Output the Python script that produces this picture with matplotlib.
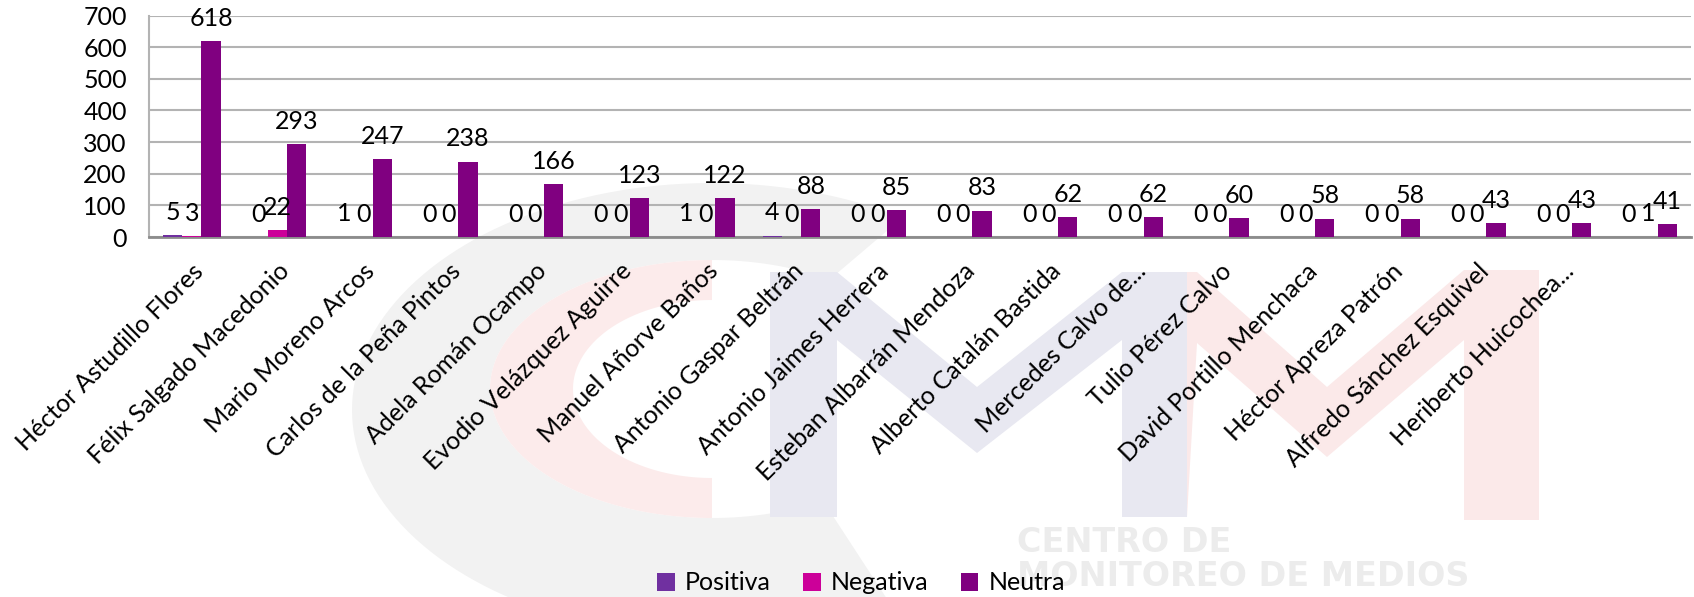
import matplotlib
matplotlib.use("Agg")
import matplotlib.pyplot as plt
import numpy as np
from matplotlib.patches import Polygon

# Data
candidates = [
    "Héctor Astudillo Flores", "Félix Salgado Macedonio", "Mario Moreno Arcos",
    "Carlos de la Peña Pintos", "Adela Román Ocampo", "Evodio Velázquez Aguirre",
    "Manuel Añorve Baños", "Antonio Gaspar Beltrán", "Antonio Jaimes Herrera",
    "Esteban Albarrán Mendoza", "Alberto Catalán Bastida", "Mercedes Calvo de...",
    "Tulio Pérez Calvo", "David Portillo Menchaca", "Héctor Apreza Patrón",
    "Alfredo Sánchez Esquivel", "Heriberto Huicochea...", "",
]
positiva = [5, 0, 1, 0, 0, 0, 1, 4, 0, 0, 0, 0, 0, 0, 0, 0, 0, 0]
negativa = [3, 22, 0, 0, 0, 0, 0, 0, 0, 0, 0, 0, 0, 0, 0, 0, 0, 1]
neutra = [618, 293, 247, 238, 166, 123, 122, 88, 85, 83, 62, 62, 60, 58, 58, 43, 43, 41]

series_names = ["Positiva", "Negativa", "Neutra"]
colors = ["#7030A0", "#CC0099", "#800080"]

FONT = ["Lato", "DejaVu Sans"]
FS = 18
plt.rcParams["font.family"] = FONT

W, H = 1694, 597
fig = plt.figure(figsize=(W / 100, H / 100), dpi=100)


def ring(cx, cy, ao, bo, ai, bi, t0, t1, n=120, cyi=None):
    if cyi is None:
        cyi = cy
    t = np.radians(np.linspace(t0, t1, n))
    outer = np.column_stack([cx + ao * np.cos(t), cy - bo * np.sin(t)])
    inner = np.column_stack([cx + ai * np.cos(t), cyi - bi * np.sin(t)])[::-1]
    return np.vstack([outer, inner])


# Faint watermark logo in the background
bg = fig.add_axes([0, 0, 1, 1], zorder=0)
bg.set_xlim(0, W)
bg.set_ylim(H, 0)
bg.axis("off")
bg.add_patch(Polygon(ring(712, 410, 360, 227, 222, 129, 58, 300, cyi=389), closed=True,
                     facecolor="#f2f2f2", edgecolor="none"))
bg.add_patch(Polygon(ring(712, 389, 222, 129, 139, 89, 90, 270), closed=True,
                     facecolor="#fcebeb", edgecolor="none"))
pink_m = [(1122, 517), (1122, 272), (1197, 272), (1327, 387), (1464, 270), (1539, 270),
          (1539, 520), (1464, 520), (1464, 340), (1327, 457), (1197, 343), (1187, 517)]
bg.add_patch(Polygon(pink_m, closed=True, facecolor="#fbe9e9", edgecolor="none"))
lav_m = [(770, 517), (770, 272), (837, 272), (977, 387), (1122, 272), (1187, 272),
         (1187, 517), (1122, 517), (1122, 340), (977, 453), (837, 340), (837, 517)]
bg.add_patch(Polygon(lav_m, closed=True, facecolor="#e8e8f1", edgecolor="none"))
bg.text(1017, 552, "CENTRO DE", fontsize=24, fontweight="bold", family="DejaVu Sans",
        color="#ececec", ha="left", va="baseline")
bg.text(1017, 586, "MONITOREO DE MEDIOS", fontsize=24, fontweight="bold",
        family="DejaVu Sans", color="#ececec", ha="left", va="baseline")

# Main chart
ax = fig.add_axes([149 / W, 1 - 237 / H, (1691 - 149) / W, (237 - 15.5) / H], zorder=1)
ax.patch.set_alpha(0)

x = np.arange(len(candidates))
w = 0.225
handles = []
for i, (name, vals, c) in enumerate(zip(series_names, [positiva, negativa, neutra], colors)):
    off = (i - 1) * w
    b = ax.bar(x + off, vals, w, color=c, label=name, zorder=3)
    handles.append(b)
    for xi, v in zip(x, vals):
        ax.annotate(str(v), (xi + off, v), xytext=(0, 11), textcoords="offset points",
                    ha="center", va="baseline", fontsize=FS, color="black", zorder=4)

ax.set_xlim(-0.5, len(candidates) - 0.5)
ax.set_ylim(0, 700)
ax.set_yticks(range(0, 701, 100))
ax.set_xticks(x)
ax.set_xticklabels(candidates, rotation=45, ha="right", va="top", rotation_mode="anchor")
ax.yaxis.grid(True, color="#b3b3b3", lw=1.5)
ax.set_axisbelow(True)
for s in ["top", "right"]:
    ax.spines[s].set_visible(False)
ax.spines["left"].set_color("#b3b3b3")
ax.spines["left"].set_linewidth(1.5)
ax.spines["bottom"].set_color("#8c8c8c")
ax.spines["bottom"].set_linewidth(2)
ax.tick_params(axis="both", length=0, labelsize=FS)
ax.tick_params(axis="y", pad=16)
ax.tick_params(axis="x", pad=16)

fig.legend(handles=handles, loc="center", bbox_to_anchor=(861 / W, 1 - 583 / H), ncol=3,
           frameon=False, fontsize=FS, handlelength=0.7, handleheight=0.7,
           handletextpad=0.4, columnspacing=1.3)

fig.savefig("out.png", dpi=100)
